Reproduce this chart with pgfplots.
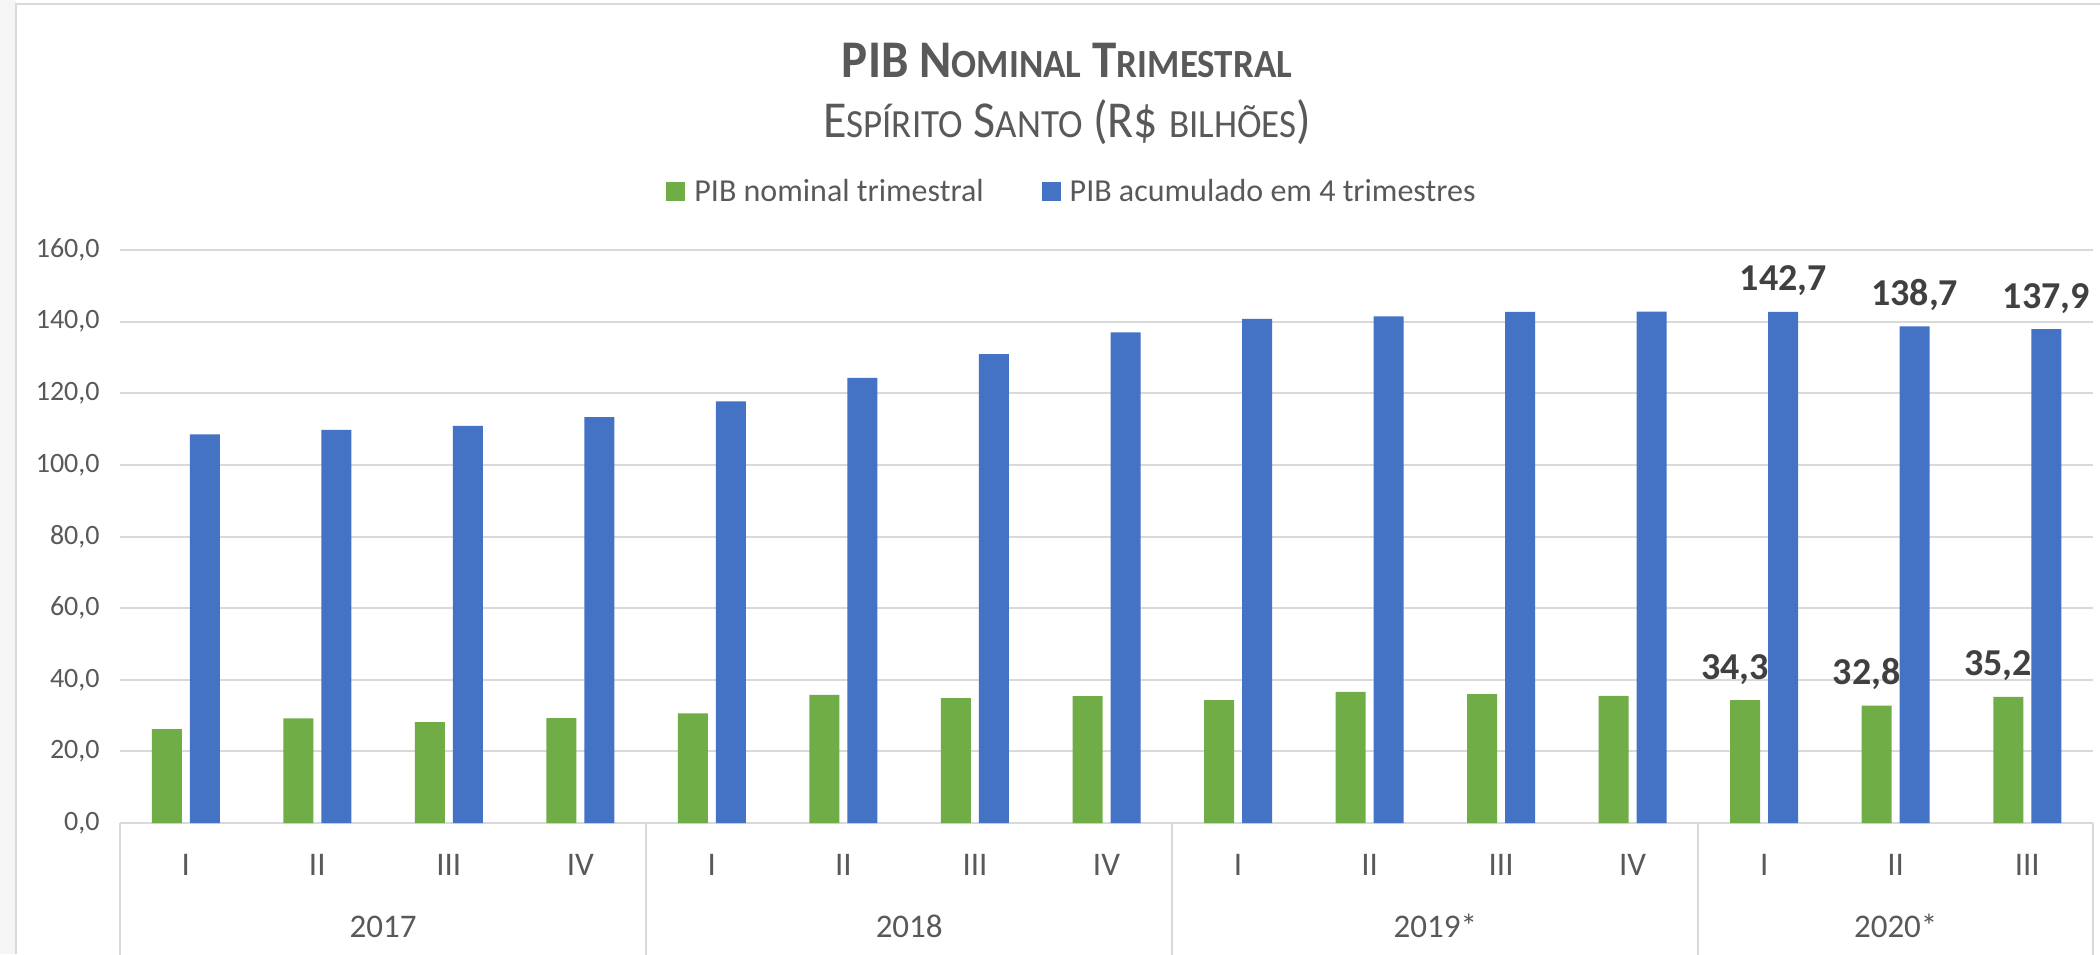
\documentclass[border=0pt]{standalone}
\usepackage{fontspec}
\setmainfont{Carlito}
\usepackage{pgfplots}
\pgfplotsset{compat=1.18}
\usepackage{pgfplotstable}

\definecolor{pgreen}{HTML}{70AD47}
\definecolor{pblue}{HTML}{4472C4}
\definecolor{txt}{HTML}{595959}
\definecolor{lab}{HTML}{404040}
\definecolor{gridc}{HTML}{D9D9D9}

\pgfplotstableread{
x nom acc
0 26.2 108.5
1 29.2 109.8
2 28.2 110.9
3 29.3 113.3
4 30.6 117.7
5 35.8 124.3
6 34.9 130.9
7 35.4 137.0
8 34.3 140.8
9 36.6 141.5
10 36.0 142.7
11 35.5 142.8
12 34.3 142.7
13 32.8 138.7
14 35.2 137.9
}\data

\newcommand{\tsm}[1]{{\fontsize{18.5}{20}\selectfont #1}}

\begin{document}
\begin{tikzpicture}
\useasboundingbox[fill=white] (-60pt,-65.5pt) rectangle (990pt,411.5pt);
\fill[black!4] (-60pt,-65.5pt) rectangle (-52pt,411.5pt);
\draw[gridc, line width=0.8pt] (-52pt,-65.5pt) -- (-52pt,409.5pt) -- (990pt,409.5pt);

\node[anchor=base, text=txt, font=\fontsize{24.5}{28}\selectfont\bfseries] at (473.5pt,372.7pt)
  {\scalebox{1}[1.08]{PIB N\tsm{OMINAL} T\tsm{RIMESTRAL}}};
\node[anchor=base, text=txt, font=\fontsize{24}{28}\selectfont] at (473.5pt,342.5pt)
  {\scalebox{1}[1.08]{E\tsm{SPÍRITO} S\tsm{ANTO} (R\$ \tsm{BILHÕES})}};

\begin{axis}[
  at={(0pt,0pt)}, anchor=south west,
  scale only axis, width=986.5pt, height=286.5pt,
  xmin=-0.5, xmax=14.5, ymin=0, ymax=160,
  ybar=4pt, bar width=15pt,
  ytick={0,20,...,160},
  xtick={0,...,14},
  xticklabels={I,II,III,IV,I,II,III,IV,I,II,III,IV,I,II,III},
  ymajorgrids, grid style={gridc, line width=1pt},
  axis line style={draw=none},
  major tick length=0pt,
  clip=false,
  /pgf/number format/fixed,
  /pgf/number format/fixed zerofill,
  /pgf/number format/precision=1,
  /pgf/number format/use comma,
  /pgf/number format/assume math mode=true,
  yticklabel style={font=\fontsize{14}{16}\selectfont, text=txt, anchor=east, inner sep=0pt, xshift=-10pt},
  xticklabel style={font=\fontsize{16.5}{18}\selectfont, text=txt, anchor=center, inner sep=0pt, yshift=-21pt},
  legend style={at={(axis description cs:0.482,1.102)}, anchor=center, draw=none, fill=none,
    font=\fontsize{16}{18}\selectfont, text=txt,
    nodes={inner sep=0pt, anchor=west},
    /tikz/column 2/.style={column sep=29pt}},
  legend columns=2,
  legend image code/.code={\fill[#1] (0pt,-4.75pt) rectangle (9.5pt,4.75pt); \path (14pt,0pt);},
]
\addplot[fill=pgreen, draw=none,
  visualization depends on={value \coordindex \as \idx},
  nodes near coords={\ifnum\idx>11 \pgfmathprintnumber{\pgfplotspointmeta}\fi},
  every node near coord/.append style={anchor=base, yshift=10.5pt, xshift=-5pt, text=lab,
    font=\fontsize{19}{21}\selectfont\bfseries, inner sep=0pt}]
  table[x=x, y=nom]{\data};
\addlegendentry{PIB nominal trimestral}
\addplot[fill=pblue, draw=none,
  visualization depends on={value \coordindex \as \idx},
  nodes near coords={\ifnum\idx>11 \pgfmathprintnumber{\pgfplotspointmeta}\fi},
  every node near coord/.append style={anchor=base, yshift=10.5pt, text=lab,
    font=\fontsize{19}{21}\selectfont\bfseries, inner sep=0pt}]
  table[x=x, y=acc]{\data};
\addlegendentry{PIB acumulado em 4 trimestres}

\pgfplotsinvokeforeach{-0.5,3.5,7.5,11.5,14.5}{
  \draw[gridc, line width=1pt] (axis cs:#1,0) -- ++(0pt,-66pt);
}
\node[font=\fontsize{16.5}{18}\selectfont, text=txt, anchor=base] at (axis cs:1.5,0) [yshift=-57pt] {2017};
\node[font=\fontsize{16.5}{18}\selectfont, text=txt, anchor=base] at (axis cs:5.5,0) [yshift=-57pt] {2018};
\node[font=\fontsize{16.5}{18}\selectfont, text=txt, anchor=base] at (axis cs:9.5,0) [yshift=-57pt] {2019*};
\node[font=\fontsize{16.5}{18}\selectfont, text=txt, anchor=base] at (axis cs:13,0) [yshift=-57pt] {2020*};
\end{axis}
\end{tikzpicture}
\end{document}
